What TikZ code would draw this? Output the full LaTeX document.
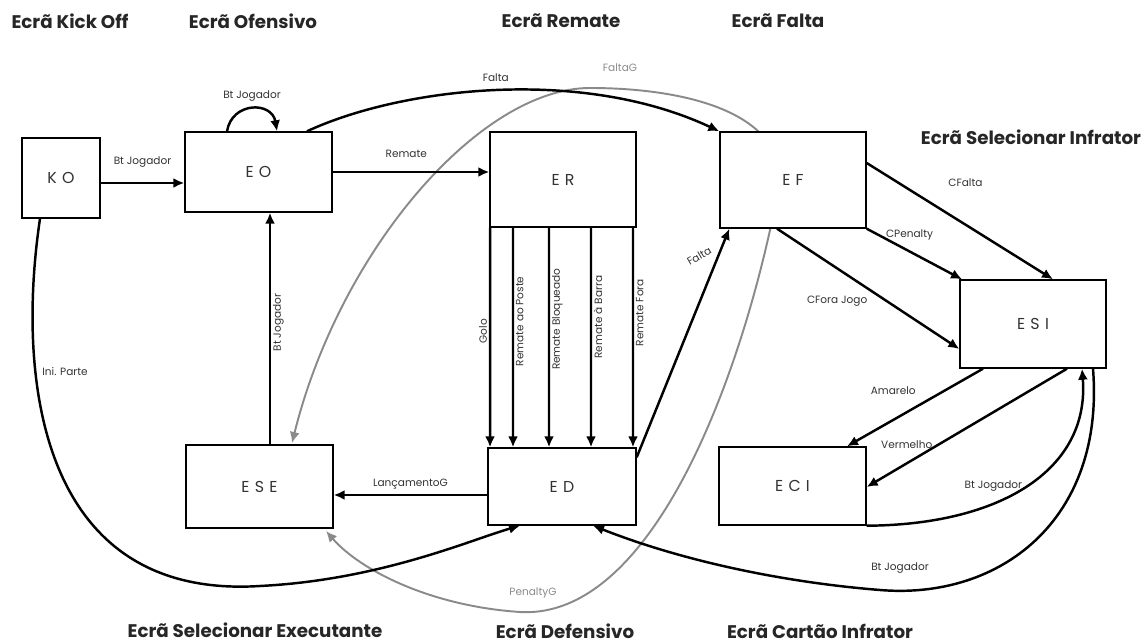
\documentclass[tikz,border=0pt]{standalone}
\usepackage{fontspec}
\setmainfont{Poppins}
\usetikzlibrary{arrows.meta}
\definecolor{edgegray}{HTML}{8A8A8A}

\begin{document}
\begin{tikzpicture}[x=0.02cm, y=-0.02cm,
  box/.style  ={draw=black, line width=0.8pt, fill=white,
                font=\fontsize{9}{10}\selectfont, text=black!80},
  hdr/.style  ={font=\fontsize{10.4}{12}\selectfont\bfseries, text=black!85},
  lbl/.style  ={font=\fontsize{6}{7}\selectfont, text=black!80, inner sep=1pt},
  glbl/.style ={lbl, text=edgegray},
  fwd/.style  ={-{Latex[length=2.2mm,width=2mm]}, line width=1.4pt, black},
  gray/.style ={-{Latex[length=2.2mm,width=2mm]}, line width=1.1pt, edgegray},
]
\useasboundingbox (0,0) rectangle (1148,644);

% ---------------- screen titles ----------------
\node[hdr] (tko)  at (70,21)   {Ecrã Kick Off};
\node[hdr] (teo)  at (253,21)  {Ecrã Ofensivo};
\node[hdr] (ter)  at (561,21)  {Ecrã Remate};
\node[hdr] (tef)  at (778,21)  {Ecrã Falta};
\node[hdr] (tesi) at (1031,137) {Ecrã Selecionar Infrator};
\node[hdr] (tese) at (255,630) {Ecrã Selecionar Executante};
\node[hdr] (ted)  at (565,631) {Ecrã Defensivo};
\node[hdr] (teci) at (820,631) {Ecrã Cartão Infrator};

% ---------------- grey goalkeeper transitions (behind the boxes) ----------------
\coordinate (gk) at (780,180);
\draw[gray] (gk) .. controls (780,110) and (680,88) .. (590,88)
            .. controls (480,88) and (340,250) .. (292,443);
\draw[gray] (gk) .. controls (750,350) and (660,620) .. (520,612)
            .. controls (430,606) and (360,570) .. (326,531);

% ---------------- screens ----------------
\node[box, minimum width=1.56cm, minimum height=1.60cm] (ko)  at (61,178)    {K\,\,O};
\node[box, minimum width=2.94cm, minimum height=1.60cm] (eo)  at (258.5,172) {E\,\,O};
\node[box, minimum width=2.92cm, minimum height=1.90cm] (er)  at (563,179.5) {E\,\,R};
\node[box, minimum width=2.92cm, minimum height=1.92cm] (ef)  at (793,180)   {E\,\,F};
\node[box, minimum width=2.92cm, minimum height=1.76cm] (esi) at (1033,324)  {E\,\,S\,\,I};
\node[box, minimum width=2.94cm, minimum height=1.66cm] (ese) at (259.5,486.5) {E\,\,S\,\,E};
\node[box, minimum width=2.96cm, minimum height=1.54cm] (ed)  at (562,486.5) {E\,\,D};
\node[box, minimum width=2.94cm, minimum height=1.56cm] (eci) at (792.5,486) {E\,\,C\,\,I};

\node[glbl] (lfaltag)   at (620,68)  {FaltaG};
\node[glbl] (lpenaltyg) at (533,593) {PenaltyG};

% ---------------- kick off / offensive ----------------
\draw[fwd] ([yshift=-1mm]ko.east) -- ([yshift=-1mm]ko.east -| eo.west)
  node[lbl, midway, above=2.6mm] (l1) {Bt Jogador};
\draw[fwd] ([xshift=-6.3mm]eo.north) .. controls +(5,-30) and +(-5,-30) .. ([xshift=3.7mm]eo.north)
  node[lbl, midway, above=0.8mm] (l2) {Bt Jogador};
\draw[fwd] ([xshift=9.7mm]eo.north) .. controls (400,88) and (580,66) .. (ef.north west)
  node[lbl, pos=0.5, above=1.2mm] (l3) {Falta};
\draw[fwd] (eo.east) -- (eo.east -| er.west)
  node[lbl, pos=0.47, above=2.2mm] (l4) {Remate};

% ---------------- shot outcomes ----------------
\draw[fwd] ([xshift=-14.6mm]er.south) -- ([xshift=-14.4mm]ed.north)
  node[lbl, rotate=90, anchor=south, pos=0.44, xshift=-1.4mm] (l5) {Golo};
\draw[fwd] ([xshift=-10mm]er.south) -- ([xshift=-9.8mm]ed.north)
  node[lbl, rotate=90, anchor=north, pos=0.44, xshift=0.6mm] (l6) {Remate ao Poste};
\draw[fwd] ([xshift=-2.8mm]er.south) -- ([xshift=-2.6mm]ed.north)
  node[lbl, rotate=90, anchor=north, pos=0.44, xshift=1mm] (l7) {Remate Bloqueado};
\draw[fwd] ([xshift=5.6mm]er.south) -- ([xshift=5.8mm]ed.north)
  node[lbl, rotate=90, anchor=north, pos=0.43, xshift=1mm] (l8) {Remate à Barra};
\draw[fwd] ([xshift=14mm]er.south) -- ([xshift=14.2mm]ed.north)
  node[lbl, rotate=90, anchor=north, pos=0.41, xshift=1mm] (l9) {Remate Fora};

% ---------------- defensive ----------------
\draw[fwd] ([yshift=-2mm]ed.north east) -- ([xshift=2mm]ef.south west)
  node[lbl, pos=0.88, xshift=-3.8mm, rotate=30] (l10) {Falta};
\draw[fwd] ([yshift=-1.7mm]ed.west) -- ([yshift=-1.7mm]ed.west -| ese.east)
  node[lbl, midway, above=0.6mm] (l11) {LançamentoG};
\draw[fwd] ([xshift=2.1mm]ese.north) -- ([xshift=2.1mm]ese.north |- eo.south)
  node[lbl, rotate=90, anchor=north, midway, xshift=1.2mm] (l12) {Bt Jogador};
\draw[fwd] ([xshift=-4.2mm]ko.south) .. controls (16,380) and (40,600) .. (260,586)
  node[lbl, pos=0.3, anchor=west, xshift=0.8mm] (l13) {Ini. Parte}
  .. controls (380,580) and (470,540) .. ([xshift=-8.4mm]ed.south);

% ---------------- foul / offender ----------------
\draw[fwd] ([yshift=3.4mm]ef.east) -- ([xshift=4mm]esi.north)
  node[lbl, pos=0.53, yshift=8.4mm] (l14) {CFalta};
\draw[fwd] (ef.south east) -- ([xshift=-14.2mm]esi.north)
  node[lbl, pos=0.45, yshift=3.3mm] (l15) {CPenalty};
\draw[fwd] ([xshift=-3.2mm]ef.south) -- ([yshift=-0.4mm]esi.south west |- 0,347)
  node[lbl, pos=0.33, yshift=-6.6mm] (l16) {CFora Jogo};
\draw[fwd] ([xshift=-10mm]esi.south) -- ([xshift=10.9mm]eci.north)
  node[lbl, pos=0.66, yshift=5.8mm] (l17) {Amarelo};
\draw[fwd] ([xshift=6.8mm]esi.south) -- ([yshift=-0.2mm]eci.east)
  node[lbl, pos=0.8, yshift=3.7mm] (l18) {Vermelho};
\draw[fwd] (eci.south east) .. controls (1000,525) and (1090,470) .. ([xshift=9.8mm]esi.south)
  node[lbl, pos=0.4, xshift=-1.8mm, yshift=2.6mm] (l19) {Bt Jogador};
\draw[fwd] ([xshift=12mm]esi.south) .. controls (1105,520) and (1000,600) .. (880,590)
  node[lbl, pos=1, xshift=4mm, yshift=4.4mm] (l20) {Bt Jogador}
  .. controls (780,582) and (680,560) .. ([xshift=6.2mm]ed.south);

\end{tikzpicture}
\end{document}
